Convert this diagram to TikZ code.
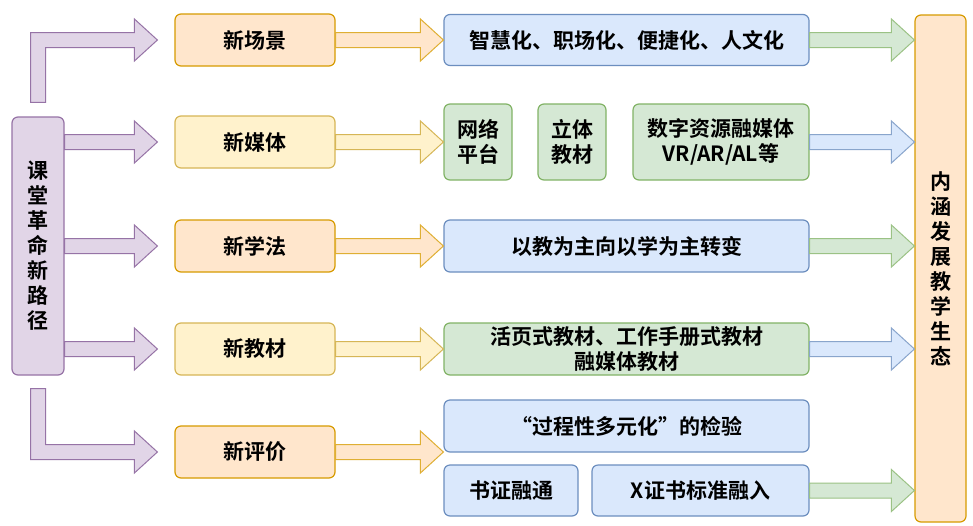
\documentclass[tikz,border=0pt]{standalone}
\usepackage{fontspec}
\setmainfont{Noto Sans CJK SC}[BoldFont={Noto Sans CJK SC Bold}]
\usetikzlibrary{calc}

\definecolor{purpfill}{HTML}{E1D5E7}
\definecolor{purpline}{HTML}{9673A6}
\definecolor{orfill}{HTML}{FFE6CC}
\definecolor{orline}{HTML}{D79B00}
\definecolor{yelfill}{HTML}{FFF2CC}
\definecolor{yelline}{HTML}{D6B656}
\definecolor{blufill}{HTML}{DAE8FC}
\definecolor{bluline}{HTML}{6C8EBF}
\definecolor{grnfill}{HTML}{D5E8D4}
\definecolor{grnline}{HTML}{82B366}

\tikzset{
    box/.style={draw, rounded corners=6pt, line width=1.2pt, inner sep=0pt,
        align=center, font=\bfseries\fontsize{21}{25}\selectfont},
    purplebox/.style={box, fill=purpfill, draw=purpline},
    orangebox/.style={box, fill=orfill, draw=orline},
    yellowbox/.style={box, fill=yelfill, draw=yelline},
    bluebox/.style={box, fill=blufill, draw=bluline},
    greenbox/.style={box, fill=grnfill, draw=grnline},
    purplearrow/.style={fill=purpfill, draw=purpline, line width=1pt},
    orangearrow/.style={fill=orfill, draw=orline!80, line width=1pt},
    yellowarrow/.style={fill=yelfill, draw=yelline, line width=1pt},
    bluearrow/.style={fill=blufill, draw=bluline!80, line width=1pt},
    greenarrow/.style={fill=grnfill, draw=grnline!80, line width=1pt}
}

% straight block arrow: style, from, to
\newcommand\flexarrow[3]{%
    \path[#1] let \p1=(#2), \p2=(#3) in
        (\x1,\y1+7.5pt) -- (\x2-23pt,\y1+7.5pt) -- (\x2-23pt,\y1+21pt)
        -- (\x2,\y1) -- (\x2-23pt,\y1-21pt) -- (\x2-23pt,\y1-7.5pt)
        -- (\x1,\y1-7.5pt) -- cycle;
}
% bent block arrow: style, from, to, side (1 up, -1 down)
\newcommand\bentarrow[4]{%
    \path[#1] let \p1=(#2), \p2=(#3) in
        (\x1-7.5pt,\y1) -- (\x1-7.5pt,\y2+#4*7.5pt) -- (\x2-23pt,\y2+#4*7.5pt)
        -- (\x2-23pt,\y2+#4*21pt) -- (\x2,\y2) -- (\x2-23pt,\y2-#4*21pt)
        -- (\x2-23pt,\y2-#4*7.5pt) -- (\x1+7.5pt,\y2-#4*7.5pt)
        -- (\x1+7.5pt,\y1) -- cycle;
}

\begin{document}
\begin{tikzpicture}[x=1pt,y=-1pt]
    \useasboundingbox[fill=white] (0,0) rectangle (973,525);

    \node[purplebox, minimum width=52, minimum height=258] (road) at (38,246)
        {课\\堂\\革\\命\\新\\路\\径};

    \node[orangebox, minimum width=160, minimum height=52] (scene) at (255,40) {新场景};
    \node[yellowbox, minimum width=160, minimum height=52] (media) at (255,142) {新媒体};
    \node[orangebox, minimum width=160, minimum height=52] (method) at (255,246) {新学法};
    \node[yellowbox, minimum width=160, minimum height=52] (books) at (255,349) {新教材};
    \node[orangebox, minimum width=160, minimum height=52] (assess) at (255,452) {新评价};

    \node[bluebox, minimum width=365, minimum height=51] (smart) at (626.5,40)
        {智慧化、职场化、便捷化、人文化};
    \node[greenbox, minimum width=68, minimum height=76] (web) at (478,142) {网络\\平台};
    \node[greenbox, minimum width=68, minimum height=76] (solid) at (572,142) {立体\\教材};
    \node[greenbox, minimum width=176, minimum height=76] (digital) at (721,142)
        {数字资源融媒体\\VR/AR/AL等};
    \node[bluebox, minimum width=365, minimum height=52] (shift) at (626.5,246)
        {以教为主向以学为主转变};
    \node[greenbox, minimum width=365, minimum height=52] (loose) at (626.5,349)
        {活页式教材、工作手册式教材\\融媒体教材};
    \node[bluebox, minimum width=365, minimum height=52] (check) at (626.5,426)
        {“过程性多元化”的检验};
    \node[bluebox, minimum width=134, minimum height=51] (cert) at (511,490.5) {书证融通};
    \node[bluebox, minimum width=217, minimum height=51] (xcert) at (700.5,490.5) {X证书标准融入};

    \node[orangebox, minimum width=51, minimum height=507] (eco) at (940.5,268.5)
        {内\\涵\\发\\展\\教\\学\\生\\态};

    \bentarrow{purplearrow}{[yshift=14pt]road.north}{[xshift=-17pt]scene.west}{1}
    \flexarrow{purplearrow}{road.east |- media.west}{[xshift=-17pt]media.west}
    \flexarrow{purplearrow}{road.east |- method.west}{[xshift=-17pt]method.west}
    \flexarrow{purplearrow}{road.east |- books.west}{[xshift=-17pt]books.west}
    \bentarrow{purplearrow}{[yshift=-13pt]road.south}{[xshift=-17pt]assess.west}{-1}

    \flexarrow{orangearrow}{scene.east}{smart.west}
    \flexarrow{yellowarrow}{media.east}{web.west}
    \flexarrow{orangearrow}{method.east}{shift.west}
    \flexarrow{yellowarrow}{books.east}{loose.west}
    \flexarrow{orangearrow}{assess.east}{check.west |- assess.east}

    \flexarrow{greenarrow}{smart.east}{eco.west |- smart.east}
    \flexarrow{bluearrow}{digital.east}{eco.west |- digital.east}
    \flexarrow{greenarrow}{shift.east}{eco.west |- shift.east}
    \flexarrow{bluearrow}{loose.east}{eco.west |- loose.east}
    \flexarrow{greenarrow}{xcert.east}{eco.west |- xcert.east}
\end{tikzpicture}
\end{document}
